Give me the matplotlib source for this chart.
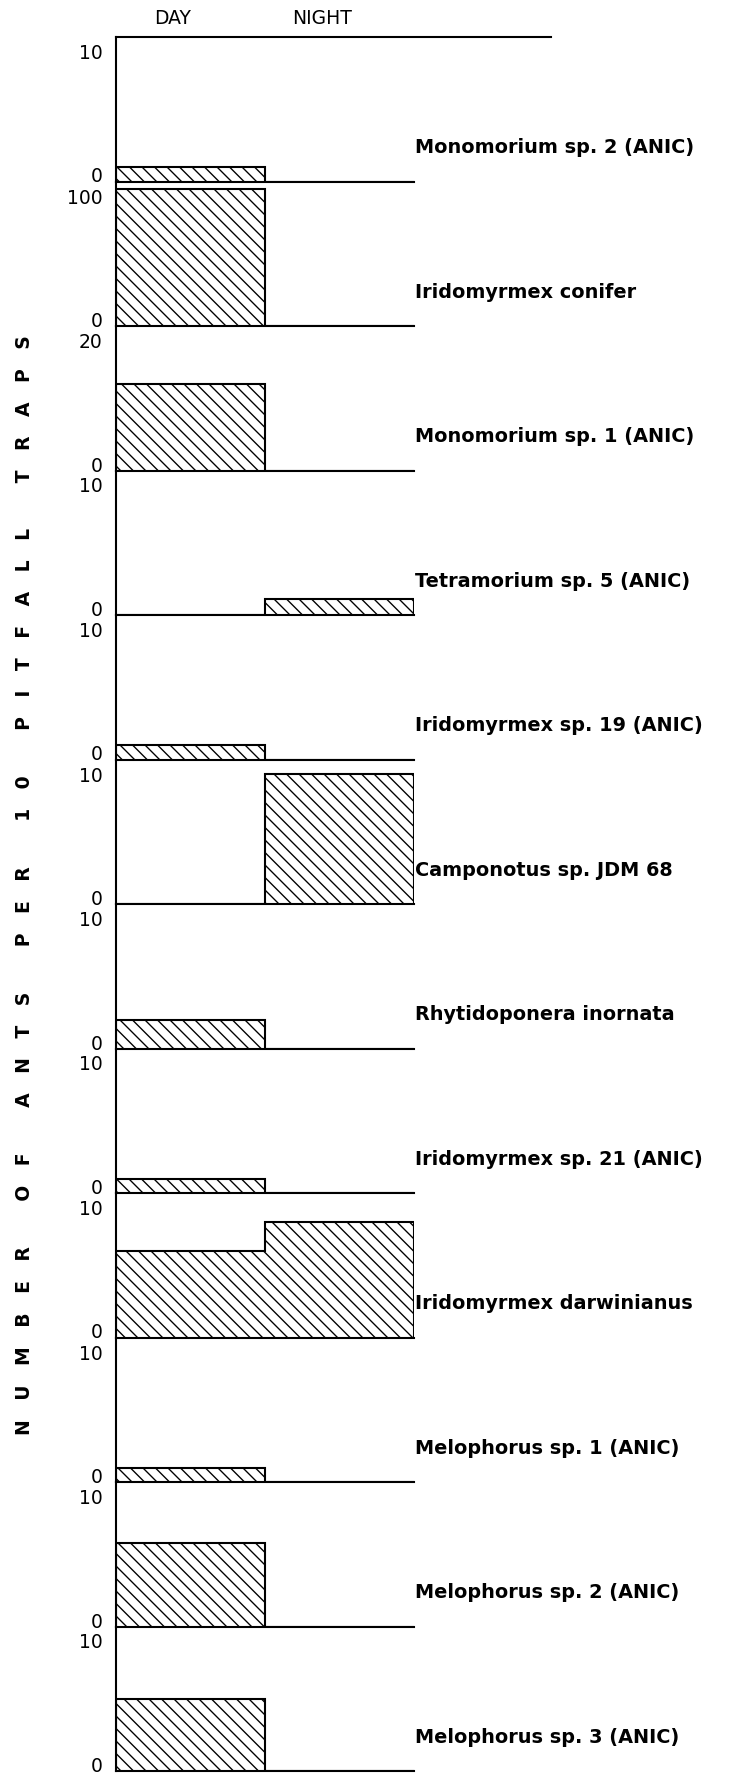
import matplotlib
matplotlib.use('Agg')
import matplotlib.pyplot as plt
import matplotlib.transforms as mtransforms

# ── Data ─────────────────────────────────────────────────────────────────────
species = [
    'Monomorium sp. 2 (ANIC)',
    'Iridomyrmex conifer',
    'Monomorium sp. 1 (ANIC)',
    'Tetramorium sp. 5 (ANIC)',
    'Iridomyrmex sp. 19 (ANIC)',
    'Camponotus sp. JDM 68',
    'Rhytidoponera inornata',
    'Iridomyrmex sp. 21 (ANIC)',
    'Iridomyrmex darwinianus',
    'Melophorus sp. 1 (ANIC)',
    'Melophorus sp. 2 (ANIC)',
    'Melophorus sp. 3 (ANIC)',
]
day   = [1, 95, 12, 0, 1, 0, 2, 1, 6, 1, 5.8, 5]
night = [0, 0, 0, 1.1, 0, 9, 0, 0, 8, 0, 0, 0]
ymax  = [10, 100, 20, 10, 10, 10, 10, 10, 10, 10, 10, 10]
periods = ['DAY', 'NIGHT']
ylabel = 'NUMBER OF ANTS PER 10 PITFALL TRAPS'

plt.rcParams['font.family'] = 'DejaVu Sans'
plt.rcParams['hatch.linewidth'] = 1.3

DPI = 75
W, H = 755, 1777
fig = plt.figure(figsize=(W / DPI, H / DPI), dpi=DPI, facecolor='white')

top_px, bot_px = 38, 1772
left_px, right_px = 116, 414
gs = fig.add_gridspec(len(species), 1,
                      left=left_px / W, right=right_px / W,
                      top=1 - top_px / H, bottom=1 - bot_px / H, hspace=0)

for i, name in enumerate(species):
    ax = fig.add_subplot(gs[i, 0])
    ax.stairs([day[i], night[i]], [0, 1, 2], baseline=0, fill=True,
              facecolor='none', edgecolor='black', linewidth=2.0,
              hatch='\\\\')
    ax.set_xlim(0, 2)
    ax.set_ylim(0, ymax[i])
    ax.set_xticks([])
    ax.set_yticks([])
    for s in ['top', 'right']:
        ax.spines[s].set_visible(False)
    for s in ['left', 'bottom']:
        ax.spines[s].set_linewidth(2.0)
    ax.patch.set_alpha(0)

    # scale labels: max at the top, 0 on the baseline
    ytr = ax.get_yaxis_transform()
    ax.text(-0.045, ymax[i], str(ymax[i]), fontsize=18,
            ha='right', va='top',
            transform=mtransforms.offset_copy(ytr, fig, y=-6, units='dots'))
    ax.text(-0.045, 0, '0', fontsize=18, ha='right', va='baseline',
            transform=ytr)

    # species name to the right
    ax.text(1.005, 0.24, name, transform=ax.transAxes, fontsize=18.5,
            fontweight='bold', ha='left', va='center')

    if i == 0:
        ax.axhline(ymax[i], xmin=0, xmax=1.46, color='black',
                   linewidth=2.0, clip_on=False)
        for k, p in enumerate(periods):
            ax.text([0.19, 0.69][k], 1.135, p, transform=ax.transAxes,
                    fontsize=18, ha='center', va='center')

fig.text(0.032, 0.502, '   '.join(ylabel), rotation=90, fontsize=18,
         fontweight='bold', ha='center', va='center')

fig.savefig('out.png', dpi=DPI, facecolor='white')
